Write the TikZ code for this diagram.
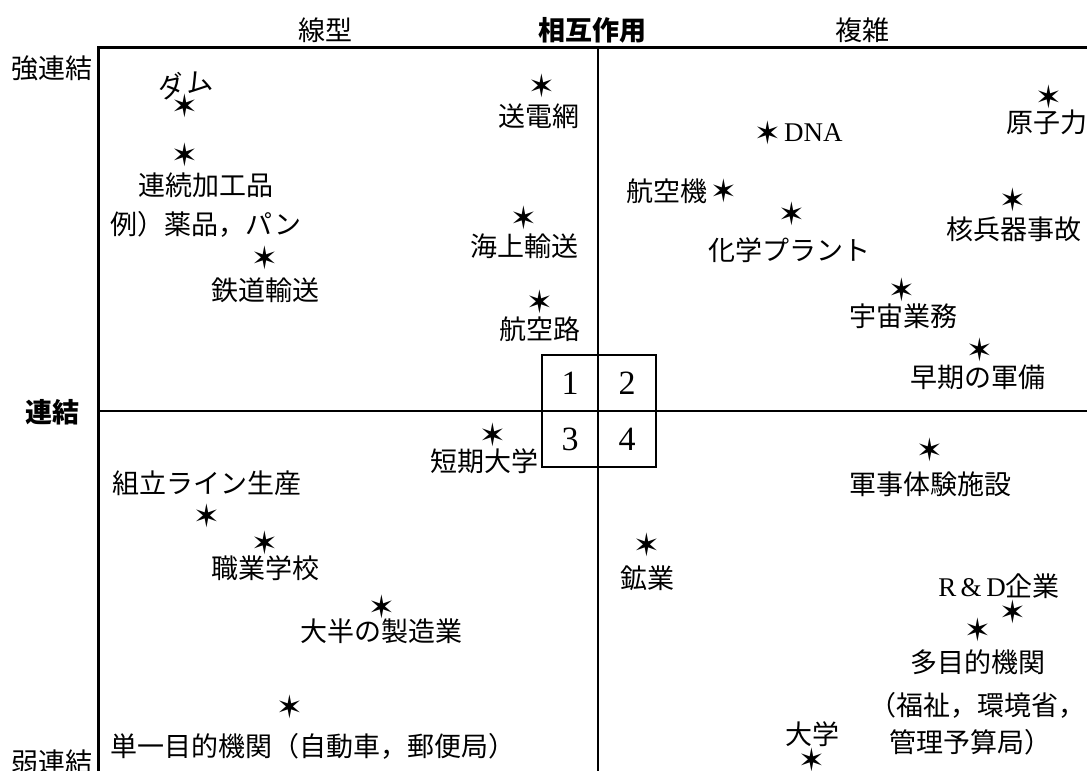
\documentclass[tikz,border=0pt]{standalone}
\usepackage{fontspec}
\setmainfont{Liberation Serif}
\newfontfamily\jp{Noto Sans CJK JP}
\newfontfamily\starfont{DejaVu Sans}
\begin{document}
\begin{tikzpicture}[x=1pt,y=-1pt,
  lab/.style={font=\jp\fontsize{27}{32}\selectfont, inner sep=0pt, anchor=center},
  boldlab/.style={font=\jp\bfseries\fontsize{27}{32}\selectfont, inner sep=0pt, anchor=center},
  latin/.style={font=\fontsize{27}{32}\selectfont, inner sep=0pt, anchor=center},
  digit/.style={font=\fontsize{34}{40}\selectfont, inner sep=0pt, anchor=center},
  st/.style={font=\starfont\fontsize{32}{32}\selectfont, inner sep=0pt, anchor=center},
  frame/.style={line width=3pt},
  axis/.style={line width=2pt},
  cell/.style={line width=2.5pt}
]
\useasboundingbox (0,0) rectangle (1087,771);
% frame and axes
\draw[frame] (1087,47) -- (98,47) -- (98,771);
\draw[axis] (598,47) -- (598,771);
\draw[axis] (98,411) -- (1087,411);
\draw[cell] (542,355) rectangle (656,467);
\draw[cell] (542,411) -- (656,411);
\draw[cell] (598,355) -- (598,467);
% numbers
\node[digit] (n1) at (570,383) {1};
\node[digit] (n2) at (627,383) {2};
\node[digit] (n3) at (570,439) {3};
\node[digit] (n4) at (627,439) {4};
% headings
\node[lab] (h1) at (325,30) {線型};
\node[boldlab] (h2) at (592,30) {相互作用};
\node[lab] (h3) at (862,30) {複雑};
\node[lab] (v1) at (52,68) {強連結};
\node[boldlab] (v2) at (52,412) {連結};
\node[lab] (v3) at (52,762) {弱連結};
% quadrant 1
\node[lab,rotate=12] (t1) at (185,84) {ダム};
\node[st] (s1) at (185,106) {✶};
\node[st] (s2) at (185,155) {✶};
\node[lab] (t2) at (206,185) {連続加工品};
\node[lab] (t3) at (206,224) {例）薬品，パン};
\node[st] (s3) at (265,258) {✶};
\node[lab] (t4) at (265,290) {鉄道輸送};
\node[st] (s4) at (542,86) {✶};
\node[lab] (t5) at (539,116) {送電網};
\node[st] (s5) at (524,218) {✶};
\node[lab] (t6) at (524,246) {海上輸送};
\node[st] (s6) at (540,302) {✶};
\node[lab] (t7) at (540,329) {航空路};
% quadrant 2
\node[lab] (t8) at (667,191) {航空機};
\node[st] (s8) at (724,191) {✶};
\node[st] (s9) at (768,133) {✶};
\node[latin,anchor=west] (t9) at (784,133) {DNA};
\node[st] (s10) at (1049,97) {✶};
\node[lab] (t10) at (1047,122) {原子力};
\node[st] (s11) at (792,214) {✶};
\node[lab] (t11) at (789,250) {化学プラント};
\node[st] (s12) at (1013,200) {✶};
\node[lab] (t12) at (1014,229) {核兵器事故};
\node[st] (s13) at (902,290) {✶};
\node[lab] (t13) at (903,316) {宇宙業務};
\node[st] (s14) at (980,350) {✶};
\node[lab] (t14) at (978,377) {早期の軍備};
% quadrant 3
\node[st] (s15) at (493,435) {✶};
\node[lab] (t15) at (484,461) {短期大学};
\node[lab] (t16) at (207,483) {組立ライン生産};
\node[st] (s16) at (207,516) {✶};
\node[st] (s17) at (265,543) {✶};
\node[lab] (t17) at (265,568) {職業学校};
\node[st] (s18) at (382,607) {✶};
\node[lab] (t18) at (381,631) {大半の製造業};
\node[st] (s19) at (290,707) {✶};
\node[lab,anchor=west] (t19) at (110,746) {単一目的機関（自動車，郵便局）};
% quadrant 4
\node[st] (s20) at (930,450) {✶};
\node[lab] (t20) at (930,484) {軍事体験施設};
\node[st] (s21) at (647,545) {✶};
\node[lab] (t21) at (647,578) {鉱業};
\node[inner sep=0pt] (t22) at (999,586) {\fontsize{27}{32}\selectfont R\,\&\,D{\jp 企業}};
\node[st] (s22) at (1013,612) {✶};
\node[st] (s23) at (978,630) {✶};
\node[lab] (t23) at (978,662) {多目的機関};
\node[lab] (t24) at (977,705) {（福祉，環境省，};
\node[lab] (t25) at (970,742) {管理予算局）};
\node[lab] (t26) at (812,734) {大学};
\node[st] (s26) at (812,760) {✶};
\end{tikzpicture}
\end{document}
